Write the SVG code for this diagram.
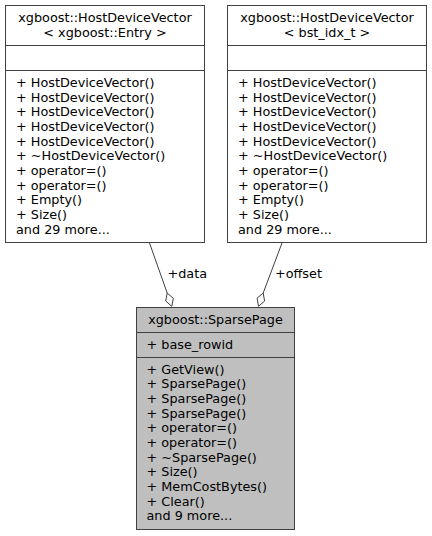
<svg xmlns="http://www.w3.org/2000/svg" width="432" height="536" viewBox="0 0 432 536">
<style>
  .box { fill: #ffffff; stroke: #404040; stroke-width: 1; }
  .box.sel { fill: #bfbfbf; }
  .div { stroke: #404040; stroke-width: 1; fill: none; }
  text { font-family: "DejaVu Sans", "Noto Sans", sans-serif; font-size: 12.8px; fill: #000000; }
  .c { text-anchor: middle; }
  .edge { stroke: #404040; stroke-width: 1; fill: none; }
  .dia { stroke: #404040; stroke-width: 1; fill: #ffffff; }
</style>
<rect width="432" height="536" fill="#ffffff"/>
<g id="connectors">
  <path class="edge" d="M149.5,243 L167.2,293"/>
  <polygon class="dia" points="167.2,293 173.3,298.3 171.8,306.3 165.7,301"/>
  <text x="167.5" y="278">+data</text>
  <path class="edge" d="M282,243 L263.2,293"/>
  <polygon class="dia" points="263.2,293 264.6,301.1 258.5,306.3 257.1,298.2"/>
  <text x="275" y="278">+offset</text>
</g>
<g id="node_entry">
  <rect class="box" x="5.5" y="5.5" width="199" height="237"/>
  <line class="div" x1="5.5" y1="45.5" x2="204.5" y2="45.5"/>
  <line class="div" x1="5.5" y1="70.5" x2="204.5" y2="70.5"/>
  <text class="c" x="105" y="22">xgboost::HostDeviceVector</text>
  <text class="c" x="105" y="36.5">&lt; xgboost::Entry &gt;</text>
  <text x="16" y="87">+ HostDeviceVector()</text>
  <text x="16" y="101.7">+ HostDeviceVector()</text>
  <text x="16" y="116.3">+ HostDeviceVector()</text>
  <text x="16" y="131">+ HostDeviceVector()</text>
  <text x="16" y="145.7">+ HostDeviceVector()</text>
  <text x="16" y="160.3">+ ~HostDeviceVector()</text>
  <text x="16" y="175">+ operator=()</text>
  <text x="16" y="189.7">+ operator=()</text>
  <text x="16" y="204.3">+ Empty()</text>
  <text x="16" y="219">+ Size()</text>
  <text x="16" y="233.7">and 29 more...</text>
</g>
<g id="node_idx">
  <rect class="box" x="227.5" y="5.5" width="199" height="237"/>
  <line class="div" x1="227.5" y1="45.5" x2="426.5" y2="45.5"/>
  <line class="div" x1="227.5" y1="70.5" x2="426.5" y2="70.5"/>
  <text class="c" x="327" y="22">xgboost::HostDeviceVector</text>
  <text class="c" x="327" y="36.5">&lt; bst_idx_t &gt;</text>
  <text x="238" y="87">+ HostDeviceVector()</text>
  <text x="238" y="101.7">+ HostDeviceVector()</text>
  <text x="238" y="116.3">+ HostDeviceVector()</text>
  <text x="238" y="131">+ HostDeviceVector()</text>
  <text x="238" y="145.7">+ HostDeviceVector()</text>
  <text x="238" y="160.3">+ ~HostDeviceVector()</text>
  <text x="238" y="175">+ operator=()</text>
  <text x="238" y="189.7">+ operator=()</text>
  <text x="238" y="204.3">+ Empty()</text>
  <text x="238" y="219">+ Size()</text>
  <text x="238" y="233.7">and 29 more...</text>
</g>
<g id="node_sparsepage">
  <rect class="box sel" x="136.5" y="307.5" width="158" height="222"/>
  <line class="div" x1="136.5" y1="332.5" x2="294.5" y2="332.5"/>
  <line class="div" x1="136.5" y1="357.5" x2="294.5" y2="357.5"/>
  <text class="c" x="215.5" y="323.5">xgboost::SparsePage</text>
  <text x="146.5" y="348.5">+ base_rowid</text>
  <text x="146.5" y="373.7">+ GetView()</text>
  <text x="146.5" y="388.4">+ SparsePage()</text>
  <text x="146.5" y="403">+ SparsePage()</text>
  <text x="146.5" y="417.7">+ SparsePage()</text>
  <text x="146.5" y="432.4">+ operator=()</text>
  <text x="146.5" y="447">+ operator=()</text>
  <text x="146.5" y="461.7">+ ~SparsePage()</text>
  <text x="146.5" y="476.4">+ Size()</text>
  <text x="146.5" y="491">+ MemCostBytes()</text>
  <text x="146.5" y="505.7">+ Clear()</text>
  <text x="146.5" y="520.4">and 9 more...</text>
</g>
</svg>
